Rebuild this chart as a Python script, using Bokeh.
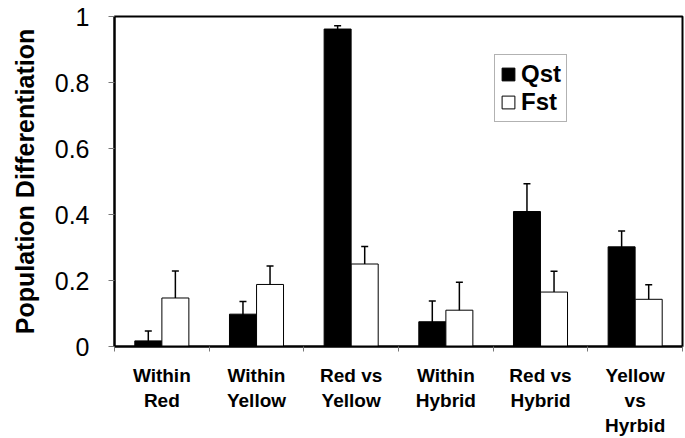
from bokeh.plotting import figure
from bokeh.models import (Range1d, FixedTicker, CustomJSTickFormatter, ColumnDataSource,
                          Whisker, TeeHead, Legend, LegendItem)
from bokeh.embed import file_html
from bokeh.resources import INLINE

categories = ["Within\nRed", "Within\nYellow", "Red vs\nYellow", "Within\nHybrid",
              "Red vs\nHybrid", "Yellow\nvs\nHyrbid"]
qst = [0.017, 0.098, 0.962, 0.075, 0.409, 0.302]
qst_err = [0.030, 0.038, 0.010, 0.063, 0.084, 0.048]
fst = [0.147, 0.188, 0.250, 0.110, 0.165, 0.143]
fst_err = [0.082, 0.056, 0.053, 0.085, 0.063, 0.044]
y_ticks = [0, 0.2, 0.4, 0.6, 0.8, 1.0]

n = len(categories)
bar_w = 0.285
off = 0.143
idx = list(range(n))

src_q = ColumnDataSource(dict(x=[i + 0.5 - off for i in idx], top=qst,
                              upper=[v + e for v, e in zip(qst, qst_err)],
                              lower=[v - e for v, e in zip(qst, qst_err)]))
src_f = ColumnDataSource(dict(x=[i + 0.5 + off for i in idx], top=fst,
                              upper=[v + e for v, e in zip(fst, fst_err)],
                              lower=[v - e for v, e in zip(fst, fst_err)]))

FONT = "Liberation Sans"

p = figure(width=685, height=438, output_backend="svg", toolbar_location=None,
           x_range=Range1d(0, n), y_range=Range1d(0, 1),
           min_border_left=114, min_border_right=3, min_border_top=16, min_border_bottom=86)
p.background_fill_color = "white"
p.border_fill_color = "white"
p.outline_line_color = "black"
p.outline_line_width = 2
p.xgrid.visible = False
p.ygrid.visible = False

rq = p.vbar(x="x", top="top", width=bar_w, source=src_q, fill_color="black", line_color="black")
rf = p.vbar(x="x", top="top", width=bar_w, source=src_f, fill_color="white", line_color="black",
            line_width=1)

for src in (src_q, src_f):
    w = Whisker(base="x", upper="upper", lower="lower", source=src,
                line_color="black", line_width=1.5,
                upper_head=TeeHead(size=7, line_width=1.5, line_color="black"),
                lower_head=TeeHead(size=7, line_width=1.5, line_color="black"))
    p.add_layout(w)

# y axis
ya = p.yaxis[0]
ya.ticker = FixedTicker(ticks=y_ticks, minor_ticks=[])
ya.formatter = CustomJSTickFormatter(code="return tick.toFixed(1).replace(/\\.0$/, '');")
ya.axis_label = "Population Differentiation"
ya.axis_label_text_font = FONT
ya.axis_label_text_font_style = "bold"
ya.axis_label_text_font_size = "25px"
ya.axis_label_text_color = "black"
ya.axis_label_standoff = 13
ya.major_label_text_font = FONT
ya.major_label_text_font_size = "25px"
ya.major_label_text_color = "black"
ya.major_label_standoff = 19
ya.major_tick_out = 6
ya.major_tick_in = 0
ya.major_tick_line_color = "#777777"
ya.axis_line_color = "black"
ya.axis_line_width = 2

# x axis
xa = p.xaxis[0]
xa.ticker = FixedTicker(ticks=[i + 0.5 for i in idx], minor_ticks=list(range(n + 1)))
xa.formatter = CustomJSTickFormatter(args=dict(labels=categories),
                                     code="return labels[Math.round(tick - 0.5)];")
xa.major_tick_out = 0
xa.major_tick_in = 0
xa.minor_tick_out = 5
xa.minor_tick_in = 0
xa.minor_tick_line_color = "#777777"
xa.major_label_text_font = FONT
xa.major_label_text_font_style = "bold"
xa.major_label_text_font_size = "19px"
xa.major_label_text_color = "black"
xa.major_label_text_line_height = 1.2
xa.major_label_standoff = 13
xa.axis_line_color = "black"
xa.axis_line_width = 2

legend = Legend(items=[LegendItem(label="Qst", renderers=[rq]),
                       LegendItem(label="Fst", renderers=[rf])],
                location=(380, 224))
legend.label_text_font = FONT
legend.label_text_font_style = "bold"
legend.label_text_font_size = "24px"
legend.label_text_color = "black"
legend.glyph_width = 16
legend.glyph_height = 16
legend.label_height = 22
legend.label_standoff = 5
legend.spacing = 0
legend.padding = 5
legend.margin = 0
legend.border_line_color = "#666666"
legend.border_line_width = 1
legend.background_fill_color = "white"
legend.background_fill_alpha = 1
p.add_layout(legend, "center")

open("out.html", "w").write(file_html(p, INLINE))
